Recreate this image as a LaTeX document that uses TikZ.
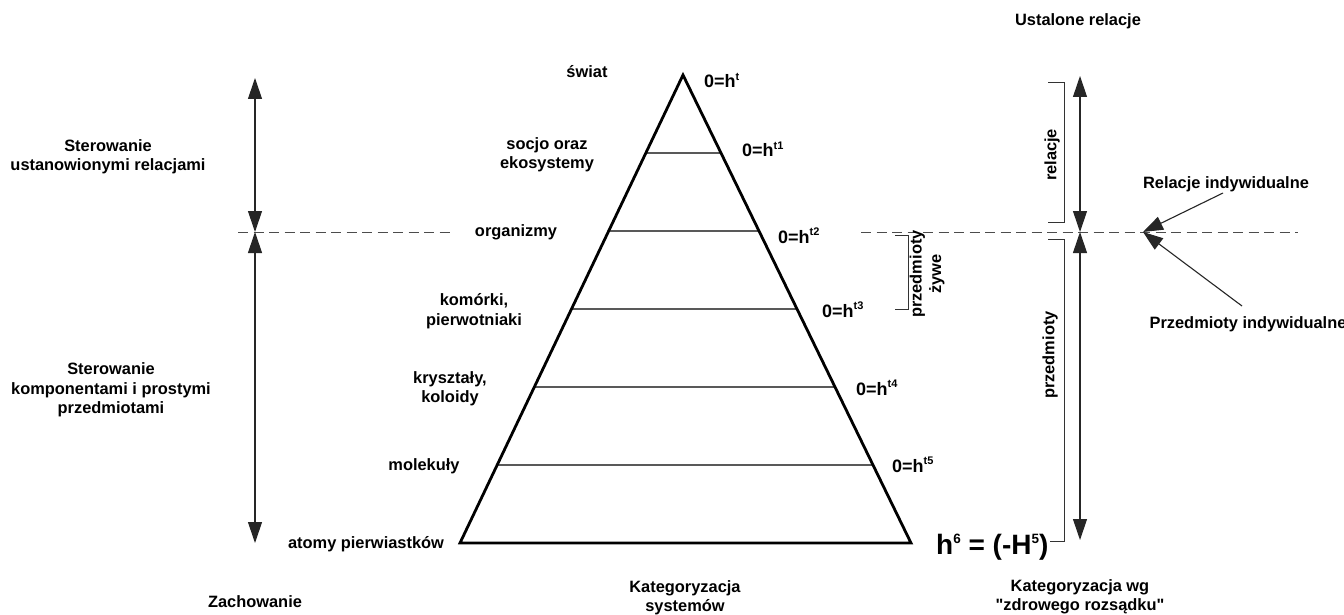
\documentclass[tikz,border=0pt]{standalone}
\usepackage{fontspec}
\setmainfont{Liberation Sans}
\usetikzlibrary{arrows.meta,calc}
% small raised index after h
\newcommand\hidx[1]{\raisebox{7.5pt}{\fontsize{11}{11}\selectfont #1}}
\newcommand\bigidx[1]{\raisebox{11pt}{\fontsize{13.5}{13.5}\selectfont #1}}
\begin{document}
\begin{tikzpicture}[x=1pt,y=-1pt,
  lbl/.style={font=\fontsize{16.4}{19.5}\selectfont\bfseries, inner sep=0pt, align=center},
  hlbl/.style={font=\fontsize{18}{20}\selectfont\bfseries, inner sep=0pt, anchor=base west},
  shaft/.style={line width=1.1pt, draw=black!85},
  bothtips/.style={{Triangle[length=21pt,width=14pt]}-{Triangle[length=21pt,width=14pt]}},
  onetip/.style={-{Triangle[length=20pt,width=14pt]}},
  level/.style={line width=1.2pt, draw=black!65},
  divider/.style={line width=1pt, draw=black!70, dash pattern=on 10pt off 5.5pt},
  bracket/.style={line width=1pt, draw=black!80},
  pyramid/.style={line width=2.8pt, draw=black}
]
% page
\fill[white] (0,0) rectangle (1344,615);
\useasboundingbox (0,0) rectangle (1344,615);

% ---------- pyramid ----------
\coordinate (apex) at (683,75);
\coordinate (bl) at (460,543);
\coordinate (br) at (911,543);
\foreach \k in {1,...,5}{
  \draw[level] ($(apex)!{\k/6}!(bl)$) -- ($(apex)!{\k/6}!(br)$);
}
\draw[pyramid] (apex) -- (bl) -- (br) -- cycle;

% ---------- level names ----------
\node[lbl] (swiat) at (587,72) {świat};
\node[lbl] (socjo) at (547,155) {socjo oraz\\ekosystemy};
\node[lbl] (org) at (516,232) {organizmy};
\node[lbl] (kom) at (474,311) {komórki,\\pierwotniaki};
\node[lbl] (kryst) at (450,389) {kryształy,\\koloidy};
\node[lbl] (mol) at (424,466) {molekuły};
\node[lbl] (atomy) at (366,544) {atomy pierwiastków};

% ---------- level values ----------
\node[hlbl] (h0) at (704,88) {0=h\hidx{t}};
\node[hlbl] (h1) at (742,157) {0=h\hidx{t1}};
\node[hlbl] (h2) at (778,243) {0=h\hidx{t2}};
\node[hlbl] (h3) at (822,317) {0=h\hidx{t3}};
\node[hlbl] (h4) at (856,395) {0=h\hidx{t4}};
\node[hlbl] (h5) at (892,472) {0=h\hidx{t5}};
\node[font=\fontsize{28}{30}\selectfont\bfseries, inner sep=0pt, anchor=base west] (h6) at (936,554) {h\bigidx{6} = (-H\bigidx{5})};

% ---------- dividing line ----------
\coordinate (dl1) at (238,232);
\coordinate (dl2) at (453,232);
\coordinate (dr1) at (861,232);
\coordinate (dr2) at (1298,232);
\draw[divider] (dl1) -- (dl2);
\draw[divider] (dr1) -- (dr2);

% ---------- left scale ----------
\coordinate (lt) at (255,78);
\coordinate (lm) at (255,232);
\coordinate (lb) at (255,543);
\draw[shaft, bothtips] (lt) -- (lm);
\draw[shaft, bothtips] (lm) -- (lb);
\node[lbl] (ster1) at (108,157) {Sterowanie\\ustanowionymi relacjami};
\node[lbl] (ster2) at (111,390) {Sterowanie\\komponentami i prostymi\\przedmiotami};
\node[lbl] (zach) at (255,602) {Zachowanie};

% ---------- right scale ----------
\coordinate (rt) at (1080,76);
\coordinate (rm) at (1080,232);
\coordinate (rb) at (1080,540);
\draw[shaft, bothtips] (rt) -- (rm);
\draw[shaft, bothtips] (rm) -- (rb);
\node[lbl] (ustal) at (1078,21) {Ustalone relacje};

% brackets
\draw[bracket] (1048,83) -- (1064,83) -- (1064,222) -- (1048,222);
\draw[bracket] (1048,239) -- (1064,239) -- (1064,541) -- (1050,541);
\draw[bracket] (895,235) -- (908,235) -- (908,309) -- (895,309);
\node[lbl, rotate=90] (rel) at (1052,155) {relacje};
\node[lbl, rotate=90] (przed) at (1050,355) {przedmioty};
\node[lbl, rotate=90] (zywe) at (927,274) {przedmioty\\żywe};

% individual relations / objects
\coordinate (meet) at (1143,232);
\coordinate (ra) at (1223,193);
\coordinate (pa) at (1242,306);
\node[lbl] (relind) at (1226,184) {Relacje indywidualne};
\node[lbl] (przind) at (1248,324) {Przedmioty indywidualne};
\draw[shaft, onetip] (ra) -- (meet);
\draw[shaft, onetip] (pa) -- (meet);

% ---------- bottom captions ----------
\node[lbl] (katsys) at (685,598) {Kategoryzacja\\systemów};
\node[lbl] (katzd) at (1080,597) {Kategoryzacja wg\\\textquotedbl zdrowego rozsądku\textquotedbl};
\end{tikzpicture}
\end{document}
